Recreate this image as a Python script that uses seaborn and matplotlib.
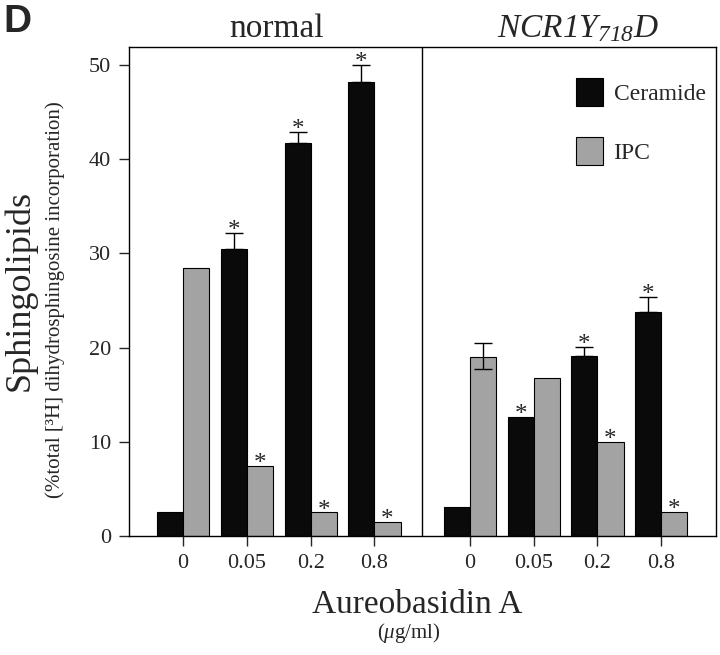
import numpy as np
import pandas as pd
import matplotlib
matplotlib.use('Agg')
import matplotlib.pyplot as plt
import seaborn as sns

# Data
conc_labels = ['0', '0.05', '0.2', '0.8']
normal_pos = [0, 1, 2, 3]
mutant_pos = [4.5, 5.5, 6.5, 7.5]

normal_ceramide = [2.6, 30.5, 41.7, 48.2]
normal_ipc = [28.4, 7.4, 2.5, 1.5]
mutant_ceramide = [3.1, 12.6, 19.1, 23.8]
mutant_ipc = [19.0, 16.8, 10.0, 2.6]

# error bars: upper / lower extent
normal_ceramide_up = [0, 1.7, 1.2, 1.8]
normal_ipc_up = [0, 0, 0, 0]
mutant_ceramide_up = [0, 0, 1.0, 1.6]
mutant_ipc_up = [1.5, 0, 0, 0]
mutant_ipc_lo = [1.3, 0, 0, 0]

# significance marks
normal_ceramide_sig = [0, 1, 1, 1]
normal_ipc_sig = [0, 1, 1, 1]
mutant_ceramide_sig = [0, 1, 1, 1]
mutant_ipc_sig = [0, 0, 1, 1]

lipids = ['Ceramide', 'IPC']

df = pd.DataFrame({
    'pos': normal_pos * 2 + mutant_pos * 2,
    'lipid': ['Ceramide'] * 4 + ['IPC'] * 4 + ['Ceramide'] * 4 + ['IPC'] * 4,
    'value': normal_ceramide + normal_ipc + mutant_ceramide + mutant_ipc,
}).sort_values('pos')

sns.set_style('ticks')
plt.rcParams['font.family'] = ['Liberation Serif', 'DejaVu Serif']
plt.rcParams['mathtext.fontset'] = 'custom'
plt.rcParams['mathtext.rm'] = 'Liberation Serif:italic'
plt.rcParams['mathtext.it'] = 'Liberation Serif:italic'

fig = plt.figure(figsize=(7.2, 6.55), dpi=100)
ax = fig.add_axes([129 / 720, 1 - 536 / 655, 587 / 720, 489 / 655])

sns.barplot(data=df, x='pos', y='value', hue='lipid', hue_order=lipids,
            palette={'Ceramide': '#0a0a0a', 'IPC': '#a3a3a3'},
            native_scale=True, width=0.82, gap=0, dodge=True,
            edgecolor='black', linewidth=0.8, errorbar=None, ax=ax)

ups = [normal_ceramide_up + mutant_ceramide_up, normal_ipc_up + mutant_ipc_up]
los = [[0] * 8, [0] * 4 + mutant_ipc_lo]
sigs = [normal_ceramide_sig + mutant_ceramide_sig, normal_ipc_sig + mutant_ipc_sig]

for cont, up, lo, sig in zip(ax.containers, ups, los, sigs):
    for bar, u, l, s in zip(cont, up, lo, sig):
        x = bar.get_x() + bar.get_width() / 2
        top = bar.get_height()
        if u > 0 or l > 0:
            ax.errorbar(x, top, yerr=[[l], [u]], fmt='none', ecolor='black',
                        elinewidth=1.0, capsize=6.5, capthick=1.0)
        if s:
            ax.annotate('*', (x, top + u), xytext=(0, -3), textcoords='offset points',
                        ha='center', va='baseline', fontsize=18)

ax.axvline(3.75, color='black', lw=1.0)

ax.set_xlim(-0.85, 8.36)
ax.set_ylim(0, 51.9)
ax.set_yticks([0, 10, 20, 30, 40, 50])
ax.set_xticks(normal_pos + mutant_pos)
ax.set_xticklabels(conc_labels * 2)
ax.tick_params(axis='both', labelsize=16, direction='out', length=7, width=1.0, pad=6)
ax.set_xlabel('')
ax.set_ylabel('')
for sp in ax.spines.values():
    sp.set_visible(True)
    sp.set_linewidth(1.0)
    sp.set_color('black')

handles, labels = ax.get_legend_handles_labels()
ax.legend(handles, labels, loc='upper left', bbox_to_anchor=(0.745, 0.955),
          frameon=False, fontsize=17, handlelength=1.15, handleheight=1.45,
          handletextpad=0.45, labelspacing=1.3, borderaxespad=0)

fig.text(0.005, 1 - 32 / 655, 'D', fontsize=28, fontweight='bold',
         family=['Liberation Sans', 'DejaVu Sans'], ha='left', va='baseline')
fig.text(276 / 720, 1 - 37 / 655, 'normal', fontsize=24, ha='center', va='baseline')
fig.text(578 / 720, 1 - 37 / 655, r'$NCR1Y_{718}D$', fontsize=24,
         ha='center', va='baseline')
fig.text(20 / 720, 1 - 290 / 655, 'Sphingolipids', fontsize=26, rotation=90,
         ha='center', va='center')
fig.text(55 / 720, 1 - 300 / 655, '(%total [³H] dihydrosphingosine incorporation)',
         fontsize=15, rotation=90, ha='center', va='center')
fig.text(417 / 720, 1 - 613 / 655, 'Aureobasidin A', fontsize=24, ha='center', va='baseline')
fig.text(409 / 720, 1 - 638 / 655, r'($\mu$g/ml)', fontsize=15, ha='center', va='baseline')

fig.savefig('out.png', dpi=100)
